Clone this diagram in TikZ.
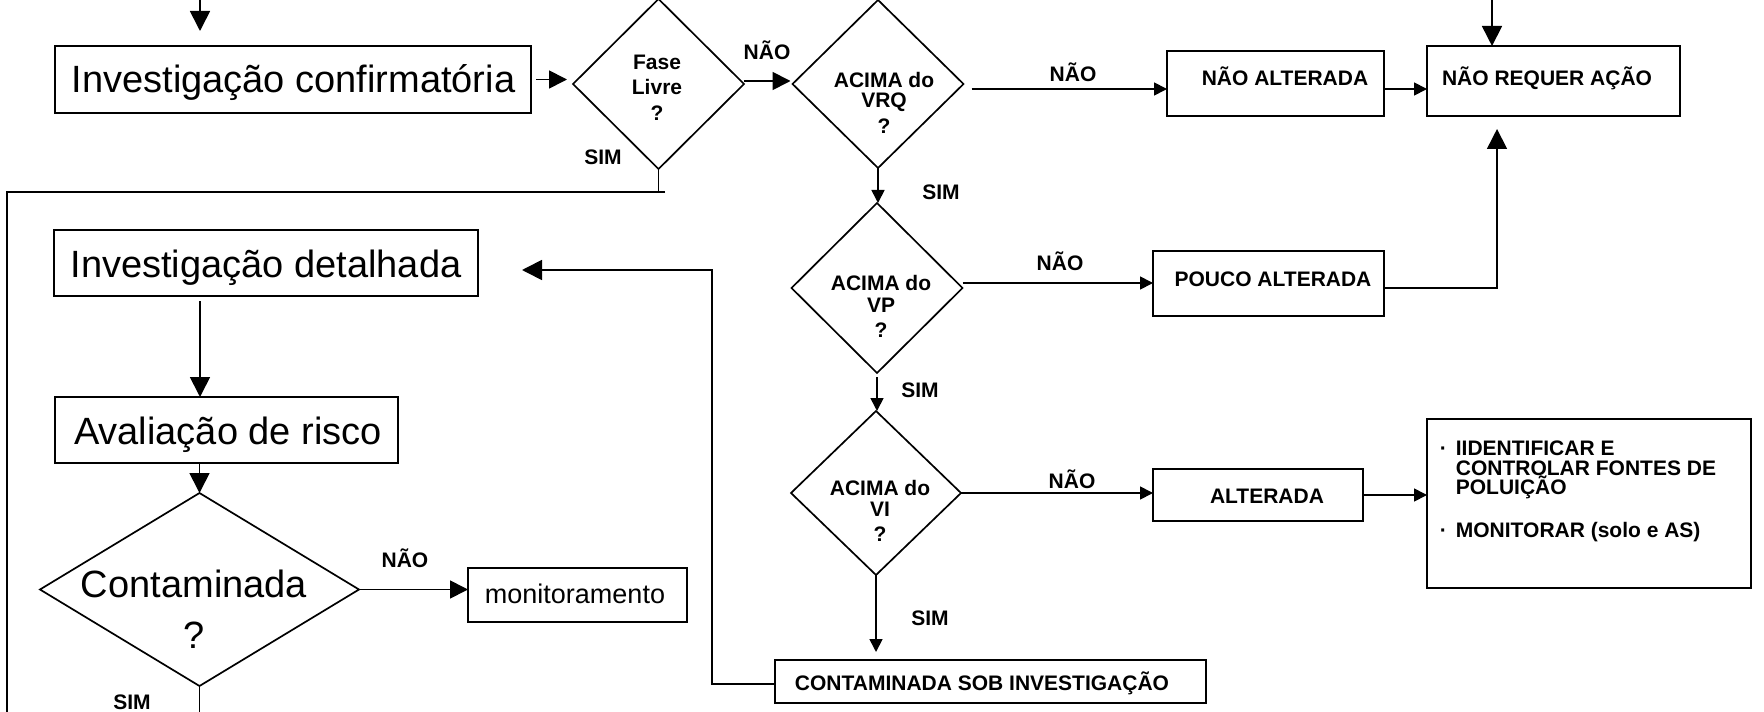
\documentclass[tikz,border=0pt]{standalone}
\usepackage{fontspec}
\setmainfont{Liberation Sans}
\usetikzlibrary{arrows.meta,shapes.geometric,calc}
\begin{document}
\begin{tikzpicture}[x=0.5pt,y=-0.5pt,
  line width=0.85pt,
  box/.style={draw, rectangle, inner sep=0pt, outer sep=0pt},
  dia/.style={draw, diamond, inner sep=0pt, outer sep=0pt},
  big/.style={font=\fontsize{19pt}{23pt}\selectfont, inner sep=0pt, anchor=base},
  lbl/.style={font=\fontsize{10.5pt}{12.5pt}\selectfont\bfseries, inner sep=0pt, anchor=base},
  qtxt/.style={font=\fontsize{10.5pt}{12.5pt}\selectfont\bfseries, inner sep=0pt, anchor=north, align=center},
  abig/.style={-{Triangle[length=10pt,width=10pt]}},
  amed/.style={-{Triangle[length=9pt,width=9pt]}},
  asml/.style={-{Triangle[length=6.5pt,width=6.5pt]}},
  loopline/.style={line width=1.3pt},
]
\useasboundingbox (0,0) rectangle (1764,711);
\fill[white] (0,0) rectangle (1764,711);

% top row
\node[box, minimum width=238pt, minimum height=33.5pt] (conf) at (293,79.5) {};
\node[big] (conft) at (293.5,93) {Investigação confirmatória};
\node[dia, minimum width=85.5pt, minimum height=85pt] (fl) at (658.5,84) {};
\node[qtxt] (flt) at (657,54.5) {Fase\\Livre\\[0.5pt]?};
\node[dia, minimum width=85.5pt, minimum height=84pt] (vrq) at (878,84) {};
\node[qtxt] (vrqt) at (884,71.5) {ACIMA do\\[-2.5pt]VRQ\\[0.5pt]?};
\node[dia, minimum width=85.5pt, minimum height=85pt] (vp) at (877,288) {};
\node[qtxt] (vpt) at (881,274.5) {ACIMA do\\[-1.5pt]VP\\?};
\node[dia, minimum width=85pt, minimum height=82pt] (vi) at (876,493) {};
\node[qtxt] (vit) at (880,479.5) {ACIMA do\\[-2pt]VI\\?};

% right boxes
\node[box, minimum width=108.5pt, minimum height=32.5pt] (naoalt) at (1275.5,83.5) {};
\node[lbl] (naoaltt) at (1285,85.5) {NÃO ALTERADA};
\node[box, minimum width=126.5pt, minimum height=35pt] (naoreq) at (1553.5,81) {};
\node[lbl] (naoreqt) at (1547,85.5) {NÃO REQUER AÇÃO};
\node[box, minimum width=115.5pt, minimum height=32.5pt] (pouco) at (1268.5,283.5) {};
\node[lbl] (poucot) at (1273,286.5) {POUCO ALTERADA};
\node[box, minimum width=105pt, minimum height=26pt] (alter) at (1258,495) {};
\node[lbl] (altert) at (1267,503.5) {ALTERADA};
\node[box, minimum width=162pt, minimum height=84.5pt] (action) at (1589,503.5) {};
\node[inner sep=0pt, anchor=north west, align=left, font=\fontsize{10.5pt}{10pt}\selectfont\bfseries] (actiont) at (1439,439.5)
  {\makebox[8pt][l]{·}IIDENTIFICAR E\\[0.3pt]\hspace*{8pt}CONTROLAR FONTES DE\\[-0.6pt]\hspace*{8pt}POLUIÇÃO\\[11.5pt]\makebox[8pt][l]{·}MONITORAR (solo e AS)};
\node[box, minimum width=215.5pt, minimum height=21.5pt] (contsob) at (990.5,681.5) {};
\node[lbl] (contsobt) at (982,690.5) {CONTAMINADA SOB INVESTIGAÇÃO};

% left column
\node[box, minimum width=212pt, minimum height=33pt] (detal) at (266,263) {};
\node[big] (detalt) at (266,277) {Investigação detalhada};
\node[box, minimum width=171.5pt, minimum height=33pt] (aval) at (226.5,430) {};
\node[big] (avalt) at (228,444) {Avaliação de risco};
\node[dia, minimum width=159.5pt, minimum height=96.5pt] (cont) at (199.5,589.5) {};
\node[big] (contt) at (194,597) {Contaminada};
\node[big] (contq) at (194,648) {?};
\node[box, minimum width=109.5pt, minimum height=27pt] (monit) at (577.5,595) {};
\node[inner sep=0pt, anchor=base, font=\fontsize{13.5pt}{16pt}\selectfont] (monitt) at (575,603) {monitoramento};

% labels
\node[lbl] (s1) at (603,164.5) {SIM};
\node[lbl] (n1) at (767,59.5) {NÃO};
\node[lbl] (n2) at (1073,81.5) {NÃO};
\node[lbl] (s2) at (941,199.5) {SIM};
\node[lbl] (n3) at (1060,270) {NÃO};
\node[lbl] (s3) at (920,397.5) {SIM};
\node[lbl] (n4) at (1072,488.5) {NÃO};
\node[lbl] (s4) at (930,625.5) {SIM};
\node[lbl] (n5) at (405,567.5) {NÃO};
\node[lbl] (s5) at (132,709.5) {SIM};

% connectors
\coordinate (tin) at (200,-5);
\draw[abig, shorten >=7.5pt] (tin) -- (tin |- conf.north);
\draw[amed, shorten <=2.5pt, shorten >=3pt] (conf.east) -- (conf.east -| fl.west);
\draw[amed] ($(fl.east)+(0,-3)$) -- ($(vrq.west)+(-2,-3)$);
\coordinate (lr) at (665,192);
\coordinate (ll) at (7,192);
\coordinate (lb) at (7,720);
\draw (fl.south) -- (fl.south |- lr);
\draw[loopline] (lr) -- (ll) -- (lb);
\draw[asml] ($(vrq.east)+(8,5)$) -- ($(naoalt.west)+(0,5.5)$);
\draw[asml] ($(naoalt.east)+(0,5.5)$) -- ($(naoreq.west)+(0,8)$);
\coordinate (tin2) at (1492,-5);
\draw[abig] (tin2) -- (tin2 |- naoreq.north);
\draw[abig] ($(pouco.east)+(0,4.5)$) -| ($(naoreq.south)+(-56.5,13)$);
\draw[asml] (vrq.south) -- (vrq.south |- vp.north);
\draw[asml] ($(vp.east)+(0,-5)$) -- ($(pouco.west)+(0,-0.5)$);
\draw[asml, shorten <=2pt] (vp.south) -- (vp.south |- vi.north);
\draw[asml] (vi.east) -- (vi.east -| alter.west);
\draw[asml] (alter.east) -- (alter.east -| action.west);
\draw[asml, shorten >=4pt] (vi.south) -- (vi.south |- contsob.north);
\draw[abig] ($(contsob.west)+(0,2.5)$) -- ++(-63,0) |- ($(detal.east)+(44,7)$);
\draw[abig] ($(detal.south)+(-66,5)$) -- ($(aval.north)+(-26.5,0)$);
\draw[abig] (aval.south -| cont.north) -- (cont.north);
\draw[amed] (cont.east) -- (cont.east -| monit.west);
\draw (cont.south) -- ++(0,30);
\end{tikzpicture}
\end{document}
